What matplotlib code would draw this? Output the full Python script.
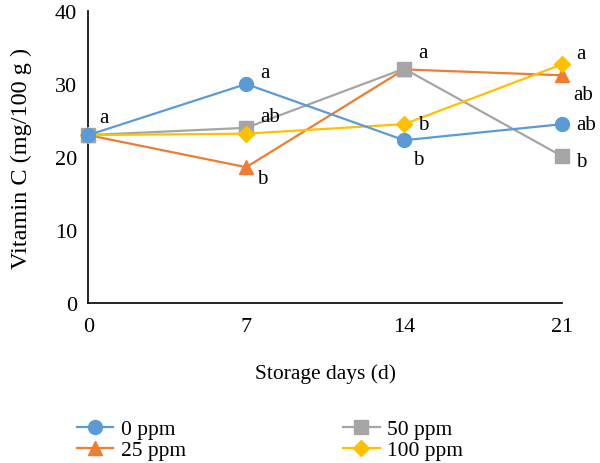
import matplotlib.pyplot as plt

plt.rcParams["font.family"] = ["Liberation Serif", "DejaVu Serif"]

DAYS = [0, 7, 14, 21]
SERIES = ["0 ppm", "25 ppm", "50 ppm", "100 ppm"]
VIT_C_0 = [23.0, 30.0, 22.3, 24.5]
VIT_C_25 = [23.0, 18.6, 32.0, 31.2]
VIT_C_50 = [23.0, 24.0, 32.1, 20.1]
VIT_C_100 = [23.0, 23.2, 24.5, 32.7]

# significance letters (None = not shown)
LETTERS_0 = ["a", "a", "b", "ab"]
LETTERS_25 = [None, "b", None, "ab"]
LETTERS_50 = [None, "ab", "a", "b"]
LETTERS_100 = [None, None, "b", "a"]

COLORS = ["#5B9BD5", "#ED7D31", "#A5A5A5", "#FFC000"]
MARKERS = ["o", "^", "s", "D"]
MSIZES = [10, 10, 9.5, 8]

# label offsets in points (per series, per day)
OFFSETS = [
    [(8, 13), (10, 8), (6, -14), (10, 0)],
    [None, (8, -8), None, (8, -14)],
    [None, (10, 8), (10, 12), (10, -4)],
    [None, None, (10, 0), (10, 8)],
]


def main():
    fig = plt.figure(figsize=(6.0, 4.64), dpi=100)
    ax = fig.add_axes([0.147, 0.345, 0.79, 0.629])

    values = [VIT_C_0, VIT_C_25, VIT_C_50, VIT_C_100]
    letters = [LETTERS_0, LETTERS_25, LETTERS_50, LETTERS_100]
    for i, (name, vals) in enumerate(zip(SERIES, values)):
        ax.plot(DAYS, vals, color=COLORS[i], marker=MARKERS[i], markersize=MSIZES[i],
                linewidth=1.6, label=name, zorder=3 + (i == 0), clip_on=False)
        for j, lab in enumerate(letters[i]):
            if lab is None:
                continue
            ax.annotate(lab, (DAYS[j], vals[j]), textcoords="offset points",
                        xytext=OFFSETS[i][j], ha="left", va="center", fontsize=15,
                        annotation_clip=False)

    ax.set_xlim(0, 21)
    ax.set_ylim(0, 40)
    ax.set_xticks(DAYS)
    ax.set_yticks([0, 10, 20, 30, 40])
    ax.tick_params(axis="y", length=0, labelsize=16, pad=8)
    ax.tick_params(axis="x", length=0, labelsize=16, pad=10)
    ax.spines["top"].set_visible(False)
    ax.spines["right"].set_visible(False)
    ax.spines["left"].set_linewidth(1.2)
    ax.spines["bottom"].set_linewidth(1.2)
    ax.set_xlabel("Storage days (d)", fontsize=15.5, labelpad=20)
    ax.set_ylabel("Vitamin C (mg/100 g )", fontsize=17.5)
    ax.yaxis.set_label_coords(-0.118, 0.5)

    fig.legend(ncol=2, loc="center left", bbox_to_anchor=(0.11, 0.05), frameon=False,
               fontsize=15.5, handlelength=1.7, columnspacing=7.3, labelspacing=0.05,
               handletextpad=0.35, borderpad=0)

    fig.savefig("out.png", dpi=100)


if __name__ == "__main__":
    main()
